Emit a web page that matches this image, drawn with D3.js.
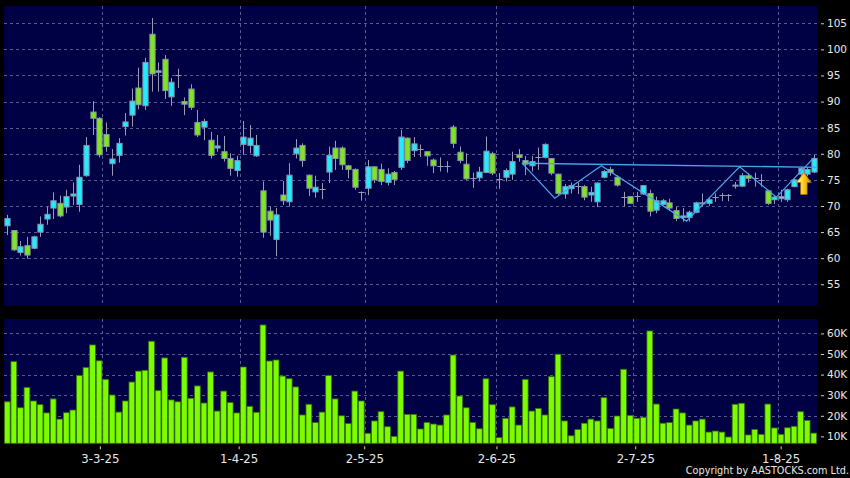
<!DOCTYPE html>
<html><head><meta charset="utf-8">
<script src="https://cdn.jsdelivr.net/npm/d3@7"></script>
<style>html,body{margin:0;padding:0;background:#000;}svg{display:block;}</style>
</head><body>
<svg id="c" width="850" height="478"></svg>
<script>
// ---- data ----
const dates = [
"2025-02-10","2025-02-11","2025-02-12","2025-02-13","2025-02-14","2025-02-17","2025-02-18","2025-02-19","2025-02-20","2025-02-21","2025-02-24","2025-02-25","2025-02-26","2025-02-27","2025-02-28",
"2025-03-03","2025-03-04","2025-03-05","2025-03-06","2025-03-07","2025-03-10","2025-03-11","2025-03-12","2025-03-13","2025-03-14","2025-03-17","2025-03-18","2025-03-19","2025-03-20","2025-03-21","2025-03-24","2025-03-25","2025-03-26","2025-03-27","2025-03-28","2025-03-31",
"2025-04-01","2025-04-02","2025-04-03","2025-04-07","2025-04-08","2025-04-09","2025-04-10","2025-04-11","2025-04-14","2025-04-15","2025-04-16","2025-04-17","2025-04-22","2025-04-23","2025-04-24","2025-04-25","2025-04-28","2025-04-29","2025-04-30",
"2025-05-02","2025-05-06","2025-05-07","2025-05-08","2025-05-09","2025-05-12","2025-05-13","2025-05-14","2025-05-15","2025-05-16","2025-05-19","2025-05-20","2025-05-21","2025-05-22","2025-05-23","2025-05-26","2025-05-27","2025-05-28","2025-05-29","2025-05-30",
"2025-06-02","2025-06-03","2025-06-04","2025-06-05","2025-06-06","2025-06-09","2025-06-10","2025-06-11","2025-06-12","2025-06-13","2025-06-16","2025-06-17","2025-06-18","2025-06-19","2025-06-20","2025-06-23","2025-06-24","2025-06-25","2025-06-26","2025-06-27","2025-06-30",
"2025-07-02","2025-07-03","2025-07-04","2025-07-07","2025-07-08","2025-07-09","2025-07-10","2025-07-11","2025-07-14","2025-07-15","2025-07-16","2025-07-17","2025-07-18","2025-07-21","2025-07-22","2025-07-23","2025-07-24","2025-07-25","2025-07-28","2025-07-29","2025-07-30","2025-07-31",
"2025-08-01","2025-08-04","2025-08-05","2025-08-06","2025-08-07","2025-08-08"];

const open  = [66.2,65.3,61.1,62.4,61.9,65.0,67.5,69.6,70.5,69.8,71.9,70.3,75.8,88.0,86.8,83.7,78.1,79.7,85.2,87.4,92.6,89.2,102.9,95.6,98.1,90.9,95.0,90.0,92.4,86.0,85.1,82.6,81.1,80.4,79.1,76.8,81.8,81.6,79.6,72.9,69.0,63.6,72.1,70.8,80.0,81.6,75.9,72.7,73.2,76.5,81.1,81.1,77.7,77.0,72.7,73.4,77.5,77.0,74.5,76.4,77.4,83.0,80.6,80.9,80.4,78.8,77.7,77.7,85.1,80.3,78.0,75.4,75.4,76.4,80.0,75.1,75.5,76.1,79.8,78.7,77.7,79.3,79.3,79.1,76.1,72.3,73.3,73.8,73.7,72.1,70.8,75.5,77.0,75.5,71.7,71.8,71.9,72.3,72.4,69.2,70.3,70.6,69.1,67.8,67.8,68.8,70.4,70.5,71.8,72.1,72.1,73.8,73.8,75.8,75.3,75.0,72.9,71.2,71.4,71.2,73.7,76.1,76.1,76.5];
const high  = [68.3,65.4,63.3,64.1,64.3,68.0,69.9,72.6,72.0,73.1,74.5,77.9,83.2,90.1,87.0,86.0,80.9,83.0,87.8,92.5,96.5,98.4,106.0,97.5,98.9,94.5,96.3,90.8,93.3,88.4,86.7,84.2,83.6,83.4,80.1,79.6,86.3,85.5,83.6,74.7,69.9,69.6,74.8,78.2,82.8,82.0,76.0,75.8,74.4,81.4,82.5,81.4,77.9,77.2,72.8,78.8,77.6,78.1,77.2,76.7,84.6,83.1,83.2,81.8,80.4,79.1,79.3,78.6,85.5,81.4,80.1,76.4,77.5,83.3,80.4,76.3,77.2,80.4,80.9,79.6,79.6,81.2,82.0,79.2,76.2,74.2,74.5,74.5,74.0,73.7,74.5,76.9,77.5,75.9,72.7,71.9,72.7,74.0,73.1,71.8,71.3,71.4,69.8,69.6,69.1,70.8,72.4,71.5,72.4,72.5,72.3,74.6,76.3,76.3,76.4,76.1,73.1,72.1,73.1,73.3,75.2,77.5,77.5,79.8];
const low   = [64.4,61.4,60.5,59.9,61.7,64.1,66.4,67.5,67.8,68.6,70.2,68.9,75.6,83.6,79.3,80.4,75.8,78.3,83.5,85.2,88.5,88.4,91.9,91.9,90.5,89.2,92.6,87.4,88.4,83.2,82.6,79.1,80.4,78.5,75.8,75.6,79.8,80.1,79.4,63.9,64.3,60.4,70.2,69.9,79.1,77.5,71.9,71.6,71.3,74.4,76.9,76.9,75.3,73.1,71.0,72.1,74.4,74.0,73.9,74.0,76.9,78.2,79.4,79.4,77.7,76.3,76.6,76.4,81.1,78.2,75.0,73.5,74.7,76.3,75.9,73.3,74.7,75.0,78.5,75.9,76.6,76.9,79.1,75.9,72.1,71.4,72.4,72.3,71.1,70.8,69.8,75.3,75.8,73.7,69.9,70.4,70.8,72.1,68.0,68.6,70.1,69.2,67.1,67.0,67.0,68.6,69.9,70.0,70.8,70.9,70.9,73.3,73.6,74.5,73.7,73.7,70.2,70.4,70.8,70.8,73.6,75.7,75.7,76.3];
const close = [67.6,61.6,62.2,60.6,64.1,66.5,68.4,71.0,68.1,71.8,72.3,75.5,81.6,86.8,79.8,81.4,79.0,82.0,86.1,90.1,89.4,97.5,95.3,95.9,92.1,93.7,95.0,89.5,88.9,83.6,86.2,79.7,81.5,79.1,77.2,78.7,83.2,83.0,81.6,65.0,67.3,68.3,71.0,75.9,81.1,78.7,73.4,73.6,73.2,79.7,79.1,77.9,77.0,73.6,72.7,77.5,75.0,74.7,76.1,75.1,83.2,78.7,81.9,80.9,79.6,77.7,77.7,77.7,82.0,78.7,75.2,75.4,76.5,80.5,76.3,75.1,76.8,78.5,79.3,78.0,78.5,79.3,81.8,76.3,72.4,73.7,73.9,73.8,71.7,72.6,74.4,76.6,76.4,74.0,71.7,70.5,71.9,73.9,69.0,71.0,71.0,69.6,67.6,68.1,68.8,70.6,70.6,71.2,71.8,72.1,72.1,74.0,75.8,75.3,75.3,75.0,70.5,71.7,71.8,73.1,75.0,77.2,77.0,79.1];
// volume in thousands of shares
const volume = [26.8,46.3,23.9,33.8,27.2,25.4,21.4,28.2,18.4,21.5,22.8,39.5,43.5,54.4,46.7,37.7,30.1,21.8,27.2,36.4,41.7,42.1,56.2,32.2,48.1,27.7,26.8,48.4,28.5,34.5,26.2,41.3,22.3,32.0,26.4,21.4,43.7,24.6,21.7,64.1,46.6,47.1,39.3,38.0,34.0,20.4,25.6,16.7,21.8,39.5,28.2,20.0,16.2,32.0,27.2,11.5,17.5,22.0,14.7,10.0,41.7,20.7,20.7,13.6,16.8,16.0,15.5,20.4,49.5,29.6,23.9,16.8,13.7,38.0,25.4,9.4,18.8,24.3,15.5,37.7,22.3,23.6,20.4,39.0,49.9,17.5,10.3,13.3,16.4,18.4,17.5,28.8,13.9,19.9,42.6,20.2,18.8,19.3,61.2,25.7,16.4,16.7,23.3,21.4,15.5,17.5,18.4,12.1,12.6,12.1,9.7,25.6,26.1,10.7,13.4,11.0,25.7,14.1,11.0,14.2,14.9,22.0,17.8,11.6];

const priceTicks = [55,60,65,70,75,80,85,90,95,100,105];
const volumeTicks = [10,20,30,40,50,60];
const monthTickDates = ["2025-03-03","2025-04-01","2025-05-02","2025-06-02","2025-07-02","2025-08-01"];
const monthTickLabels = ["3-3-25","1-4-25","2-5-25","2-6-25","2-7-25","1-8-25"];

// pattern (inverse head & shoulders) drawn on the chart, in candle-index / price units
const patternIdx   = [78.5, 83.5, 90.6, 103.6, 111.7, 117.3, 123.0];
const patternPrice = [78.2, 71.5, 77.7, 67.1, 77.5, 71.7, 79.2];
const necklineIdx   = [78.5, 123.6];
const necklinePrice = [78.2, 77.4];
const arrowIdx = 121.5, arrowPrice = 76.4;

// ---- layout ----
const W = 850, H = 478;
const plotL = 4, plotR = 817;
const pTop = 6, pBot = 306;
const vTop = 319, vBot = 443.3;
const N = dates.length;
const C = {
  panel:"#000044", grid:"#5a5a90", text:"#e8e8e8",
  up:"#22eaff", down:"#7ee61e", edge:"#8894a8", wick:"#9a9ab0",
  vol:"#7cfc00", volEdge:"#3a7000", pattern:"#4aa6ea"
};
const font = "'DejaVu Sans', Verdana, sans-serif";

const svg = d3.select("#c");
svg.append("rect").attr("width",W).attr("height",H).attr("fill","#000");

const x = d3.scaleBand().domain(d3.range(N)).range([plotL, plotR]).padding(0);
const step = x.step();
const cx = i => x(i) + x.bandwidth()/2;
const xf = d3.scaleLinear().domain([0, N-1]).range([cx(0), cx(N-1)]);
const xt = d3.scaleLinear().domain([0, N-1]).range([plotL, plotR]);
const y = d3.scaleLinear().domain([50.84, 108.31]).range([pBot, pTop]);
const yv = d3.scaleLinear().domain([6.65, 67.0]).range([vBot, vTop]);

const idxOf = d => dates.indexOf(d);
const monthIdx = monthTickDates.map(idxOf);

// panels
svg.append("rect").attr("x",plotL).attr("y",pTop).attr("width",plotR-plotL).attr("height",pBot-pTop).attr("fill",C.panel);
svg.append("rect").attr("x",plotL).attr("y",vTop).attr("width",plotR-plotL).attr("height",vBot-vTop).attr("fill",C.panel);

// grids
const g = svg.append("g").attr("stroke",C.grid).attr("stroke-dasharray","3,3").attr("stroke-width",1);
g.selectAll(".hp").data(priceTicks).join("line")
  .attr("x1",plotL).attr("x2",plotR).attr("y1",d=>Math.round(y(d))+0.5).attr("y2",d=>Math.round(y(d))+0.5);
g.selectAll(".hv").data(volumeTicks.filter(v=>v>10)).join("line").attr("class","hv")
  .attr("x1",plotL).attr("x2",plotR).attr("y1",d=>Math.round(yv(d))+0.5).attr("y2",d=>Math.round(yv(d))+0.5);
monthIdx.forEach(i=>{
  const gx = Math.round(x(i))+0.5;
  g.append("line").attr("x1",gx).attr("x2",gx).attr("y1",pTop).attr("y2",pBot);
  g.append("line").attr("x1",gx).attr("x2",gx).attr("y1",vTop).attr("y2",vBot);
});

// candles
const bw = 5.2;
const data = d3.range(N).map(i=>({i, o:open[i], h:high[i], l:low[i], c:close[i], v:volume[i]}));
const cg = svg.append("g");
cg.selectAll(".wick").data(data).join("line")
  .attr("x1",d=>Math.round(cx(d.i))+0.5).attr("x2",d=>Math.round(cx(d.i))+0.5)
  .attr("y1",d=>y(d.h)).attr("y2",d=>y(d.l))
  .attr("stroke",C.wick).attr("stroke-width",1);
cg.selectAll(".body").data(data.filter(d=>d.o!==d.c)).join("rect")
  .attr("x",d=>Math.round(cx(d.i))+0.5-bw/2)
  .attr("y",d=>y(Math.max(d.o,d.c)))
  .attr("width",bw)
  .attr("height",d=>Math.max(1, Math.abs(y(d.o)-y(d.c))))
  .attr("fill",d=>d.c>d.o?C.up:C.down)
  .attr("stroke",C.edge).attr("stroke-width",1);
cg.selectAll(".doji").data(data.filter(d=>d.o===d.c)).join("line")
  .attr("x1",d=>Math.round(cx(d.i))+0.5-bw/2-0.5).attr("x2",d=>Math.round(cx(d.i))+0.5+bw/2+0.5)
  .attr("y1",d=>Math.round(y(d.c))+0.5).attr("y2",d=>Math.round(y(d.c))+0.5)
  .attr("stroke",C.wick).attr("stroke-width",1);

// pattern lines
const pline = d3.line().x(d=>xf(d[0])).y(d=>y(d[1]));
svg.append("path").datum(patternIdx.map((v,k)=>[v,patternPrice[k]]))
  .attr("d",pline).attr("fill","none").attr("stroke",C.pattern).attr("stroke-width",1.2);
svg.append("path").datum(necklineIdx.map((v,k)=>[v,necklinePrice[k]]))
  .attr("d",pline).attr("fill","none").attr("stroke",C.pattern).attr("stroke-width",1.4);

// arrow
const defs = svg.append("defs");
const grad = defs.append("linearGradient").attr("id","ag").attr("x1",0).attr("x2",1).attr("y1",0).attr("y2",0);
grad.append("stop").attr("offset","0%").attr("stop-color","#fff6a0");
grad.append("stop").attr("offset","45%").attr("stop-color","#ffd21a");
grad.append("stop").attr("offset","100%").attr("stop-color","#d88a00");
svg.append("path")
  .attr("transform",`translate(${xf(arrowIdx)},${y(arrowPrice)})`)
  .attr("d","M0,0 L7.5,10 L3.3,10 L3.3,22 L-3.3,22 L-3.3,10 L-7.5,10 Z")
  .attr("fill","url(#ag)").attr("stroke","#a86a00").attr("stroke-width",0.6);

// volume bars
svg.append("g").selectAll("rect").data(data).join("rect")
  .attr("x",d=>x(d.i)+0.4).attr("width",step-0.8)
  .attr("y",d=>yv(d.v)).attr("height",d=>vBot-yv(d.v))
  .attr("fill",C.vol).attr("stroke",C.volEdge).attr("stroke-width",0.8);

// axes
function styleAxis(sel, size){
  sel.select(".domain").remove();
  sel.selectAll(".tick line").attr("stroke","#cfcfcf");
  sel.selectAll(".tick text").attr("fill",C.text).style("font-family",font).style("font-size",size+"px");
}
svg.append("g").attr("transform",`translate(${plotR+4},0)`)
  .call(d3.axisRight(y).tickValues(priceTicks).tickSize(3).tickPadding(3).tickFormat(d3.format("d")))
  .call(s=>styleAxis(s,10.5));
svg.append("g").attr("transform",`translate(${plotR+4},0)`)
  .call(d3.axisRight(yv).tickValues(volumeTicks).tickSize(3).tickPadding(3).tickFormat(d=>d+"K"))
  .call(s=>styleAxis(s,10.5));
svg.append("g").attr("transform",`translate(0,${vBot+3})`)
  .call(d3.axisBottom(xt).tickValues(monthIdx.map(i=>i-0.5)).tickSize(3).tickPadding(5)
        .tickFormat((d,k)=>monthTickLabels[k]))
  .call(s=>styleAxis(s,11.7));

svg.append("text").attr("x",849).attr("y",474).attr("text-anchor","end")
  .attr("fill",C.text).style("font-family",font).style("font-size","9.7px")
  .text("Copyright by AASTOCKS.com Ltd.");
</script>
</body></html>
